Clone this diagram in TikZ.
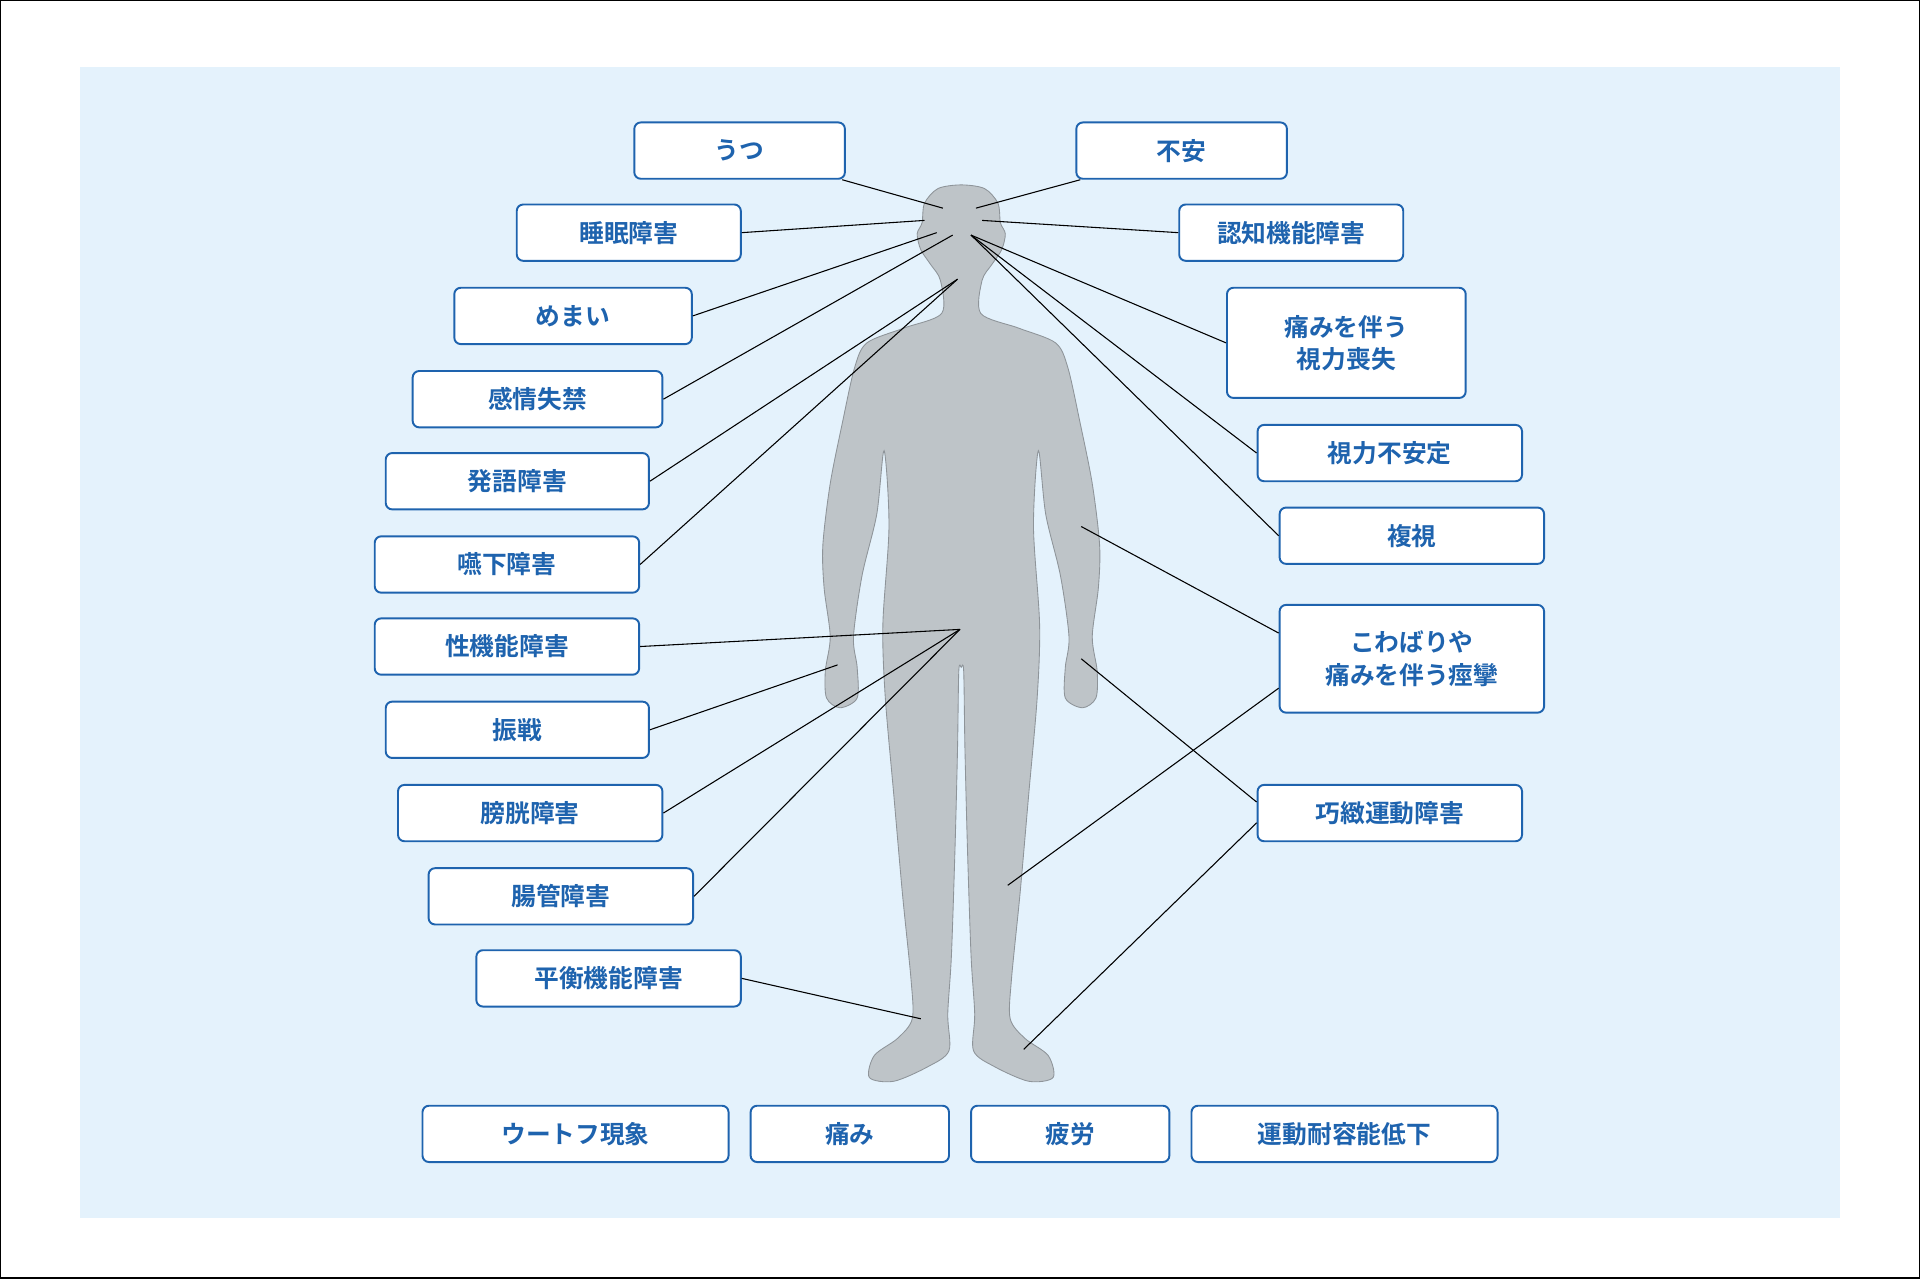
\documentclass[tikz,border=0pt]{standalone}
\usepackage{fontspec}
\newfontfamily\jpfont{Noto Sans CJK JP Bold}
\definecolor{bgblue}{HTML}{E4F2FC}
\definecolor{boxblue}{HTML}{1E63AE}
\definecolor{bodygray}{HTML}{BEC4C8}
\definecolor{bodyline}{HTML}{8E9499}
\tikzset{
  symptom/.style={draw=boxblue, fill=white, rounded corners=3pt, line width=0.9pt,
    text=boxblue, font=\jpfont\fontsize{11.5}{15}\selectfont, align=center, inner sep=0pt},
  pointer/.style={black, line width=0.5pt}
}
\begin{document}
\begin{tikzpicture}[x=0.02cm,y=-0.02cm]
  \useasboundingbox (0,0) rectangle (1568,1044);
  \draw[black, line width=0.8pt] (0.5,0.5) rectangle (1567.5,1043.5);
  \fill[bgblue] (65,55) rectangle (1503,995);
  % body
  \draw[fill=bodygray, draw=bodyline, line width=0.4pt] plot[smooth cycle, tension=0.5] coordinates {
    (785,151) (766,154) (755,166) (753,182) (749,191) (752,204) (760,216) (768,229) (769,256)
    (738,268) (708,280) (698,300) (688,345) (678,395) (672,445) (673,480) (678,520)
    (674,548) (675,570) (686,578) (700,570) (700,545) (697,520) (704,470) (716,420) (722,368)
    (726,430) (721,510) (723,570) (730,650) (737,730) (744,800) (745,832)
    (733,848) (714,862) (710,880) (730,883) (758,871) (775,858) (774,828)
    (777,780) (780,690) (782,610) (783,548) (785,545) (787,548)
    (788,610) (790,690) (793,780) (796,828) (795,858) (812,871) (840,883) (860,880)
    (856,862) (837,848) (825,832) (826,800) (833,730) (840,650) (847,570) (849,510)
    (844,430) (848,368) (854,420) (866,470) (873,520) (870,545) (870,570) (884,578)
    (895,570) (896,548) (892,520) (897,480) (898,445) (892,395) (882,345) (872,300)
    (862,280) (832,268) (801,256) (802,229) (810,216) (818,204) (821,191) (817,182)
    (815,166) (804,154)
  };
  % body points
  \coordinate (pUtsu) at (770,170);
  \coordinate (pFuan) at (797,170);
  \coordinate (pSuimin) at (755,180);
  \coordinate (pNinchi) at (802,180);
  \coordinate (pMemai) at (765,190);
  \coordinate (pKanjo) at (778,192);
  \coordinate (pEye) at (793,192);
  \coordinate (pThroat) at (782,228);
  \coordinate (pPelvis) at (784,514);
  \coordinate (pHandL) at (684,543);
  \coordinate (pFootL) at (752,832);
  \coordinate (pArmR) at (883,430);
  \coordinate (pThigh) at (823,723);
  \coordinate (pHandR) at (883,538);
  \coordinate (pFootR) at (836,857);
  % boxes
  \node[symptom, text width=3.44cm, minimum height=0.92cm] (utsu) at (604,123) {うつ};
  \node[symptom, text width=3.44cm, minimum height=0.92cm] (fuan) at (965,123) {不安};
  \node[symptom, text width=3.66cm, minimum height=0.92cm] (suimin) at (513.5,190) {睡眠障害};
  \node[symptom, text width=3.66cm, minimum height=0.92cm] (ninchi) at (1054.5,190) {認知機能障害};
  \node[symptom, text width=3.88cm, minimum height=0.92cm] (memai) at (468,258) {めまい};
  \node[symptom, text width=3.9cm, minimum height=1.8cm] (shiryoku) at (1099.5,280) {痛みを伴う\\視力喪失};
  \node[symptom, text width=4.08cm, minimum height=0.92cm] (kanjo) at (439,326) {感情失禁};
  \node[symptom, text width=4.32cm, minimum height=0.92cm] (fuantei) at (1135,370) {視力不安定};
  \node[symptom, text width=4.3cm, minimum height=0.92cm] (hatsugo) at (422.5,393) {発語障害};
  \node[symptom, text width=4.32cm, minimum height=0.92cm] (fukushi) at (1153,437.5) {複視};
  \node[symptom, text width=4.32cm, minimum height=0.92cm] (enge) at (414,461) {嚥下障害};
  \node[symptom, text width=4.32cm, minimum height=1.76cm] (kowabari) at (1153,538) {こわばりや\\痛みを伴う痙攣};
  \node[symptom, text width=4.32cm, minimum height=0.92cm] (sei) at (414,528) {性機能障害};
  \node[symptom, text width=4.3cm, minimum height=0.92cm] (shinsen) at (422.5,596) {振戦};
  \node[symptom, text width=4.32cm, minimum height=0.92cm] (kochi) at (1135,664) {巧緻運動障害};
  \node[symptom, text width=4.32cm, minimum height=0.92cm] (bokou) at (433,664) {膀胱障害};
  \node[symptom, text width=4.32cm, minimum height=0.92cm] (chokan) at (458,732) {腸管障害};
  \node[symptom, text width=4.32cm, minimum height=0.92cm] (heiko) at (497,799) {平衡機能障害};
  \node[symptom, text width=5cm, minimum height=0.92cm] (uhthoff) at (470,926) {ウートフ現象};
  \node[symptom, text width=3.24cm, minimum height=0.92cm] (itami) at (694,926) {痛み};
  \node[symptom, text width=3.24cm, minimum height=0.92cm] (hiro) at (874,926) {疲労};
  \node[symptom, text width=5cm, minimum height=0.92cm] (taiyo) at (1098,926) {運動耐容能低下};
  % pointers
  \draw[pointer] (utsu.south east) ++(-3,0) -- (pUtsu);
  \draw[pointer] (fuan.south west) ++(4,0) -- (pFuan);
  \draw[pointer] (suimin.east) -- (pSuimin);
  \draw[pointer] (ninchi.west) -- (pNinchi);
  \draw[pointer] (memai.east) -- (pMemai);
  \draw[pointer] (kanjo.east) -- (pKanjo);
  \draw[pointer] (shiryoku.west) -- (pEye);
  \draw[pointer] (fuantei.west) -- (pEye);
  \draw[pointer] (hatsugo.east) -- (pThroat);
  \draw[pointer] (fukushi.west) -- (pEye);
  \draw[pointer] (enge.east) -- (pThroat);
  \draw[pointer] (sei.east) -- (pPelvis);
  \draw[pointer] (shinsen.east) -- (pHandL);
  \draw[pointer] (bokou.east) -- (pPelvis);
  \draw[pointer] (chokan.east) -- (pPelvis);
  \draw[pointer] (heiko.east) -- (pFootL);
  \draw[pointer] (kowabari.west) ++(0,-21) -- (pArmR);
  \draw[pointer] (kowabari.west) ++(0,24) -- (pThigh);
  \draw[pointer] (kochi.west) ++(0,-9) -- (pHandR);
  \draw[pointer] (kochi.west) ++(0,8) -- (pFootR);
\end{tikzpicture}
\end{document}
